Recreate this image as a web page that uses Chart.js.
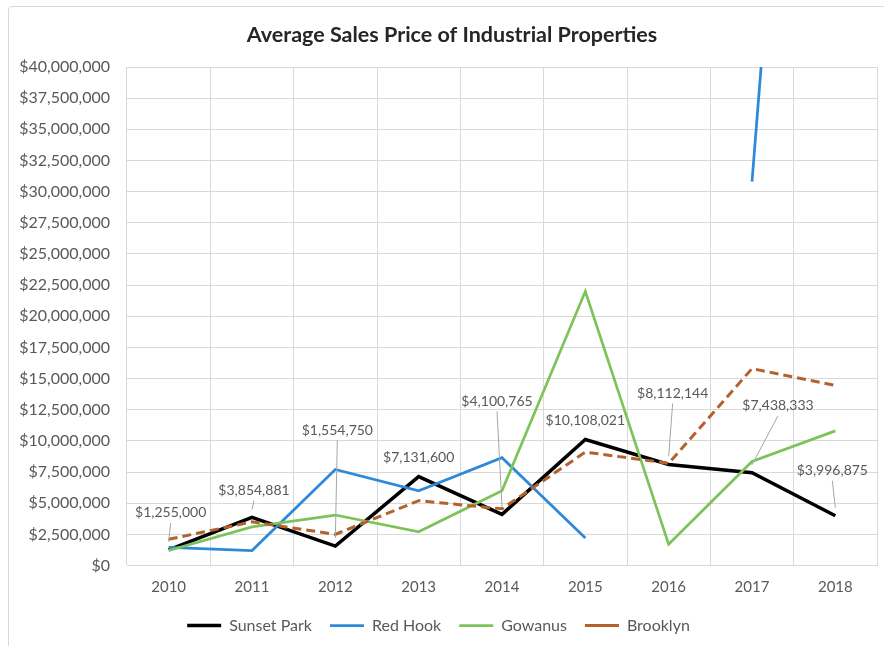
<!DOCTYPE html>
<html>
<head>
<meta charset="utf-8">
<script src="https://cdn.jsdelivr.net/npm/chart.js@4.4.0/dist/chart.umd.min.js"></script>
<style>
  html, body { margin: 0; padding: 0; background: #fff; }
  #wrap { position: relative; width: 884px; height: 646px; overflow: hidden; }
  #frame { position: absolute; left: 8px; top: 6px; width: 900px; height: 700px; border: 1px solid #d9d9d9; border-radius: 4px; }
  canvas { position: absolute; left: 0; top: 0; }
</style>
</head>
<body>
<div id="wrap">
  <div id="frame"></div>
  <canvas id="line-chart" width="884" height="646"></canvas>
</div>
<script>
const years = ["2010", "2011", "2012", "2013", "2014", "2015", "2016", "2017", "2018"];
const sunsetPark = [1255000, 3854881, 1554750, 7131600, 4100765, 10108021, 8112144, 7438333, 3996875];
const redHook = [1450000, 1200000, 7700000, 6000000, 8650000, 2200000, null, 30800000, 115000000];
const gowanus = [1200000, 3100000, 4050000, 2700000, 6000000, 22000000, 1700000, 8350000, 10800000];
const brooklyn = [2100000, 3500000, 2500000, 5200000, 4550000, 9100000, 8200000, 15800000, 14450000];
const yMin = 0;
const yMax = 40000000;
const yStep = 2500000;

const money = (v) => "$" + Number(v).toLocaleString("en-US");

// where the Sunset Park labels sit, relative to their point (text centre)
const labelOffsets = [[2, -37], [2, -27], [2, -116], [0, -19], [-5, -113], [0, -19], [4, -71], [26, -67], [-3, -45]];

const titlePlugin = {
  id: "titleText",
  afterDraw(chart) {
    const ctx = chart.ctx;
    ctx.save();
    ctx.font = "bold 21.5px Lato";
    ctx.fillStyle = "#262626";
    ctx.textAlign = "center";
    ctx.textBaseline = "middle";
    ctx.fillText("Average Sales Price of Industrial Properties", 452, 35);
    ctx.restore();
  },
};

const labelPlugin = {
  id: "pointLabels",
  afterDatasetsDraw(chart) {
    const ctx = chart.ctx;
    const meta = chart.getDatasetMeta(0);
    ctx.save();
    ctx.font = "14px Lato";
    ctx.textAlign = "center";
    ctx.textBaseline = "middle";
    meta.data.forEach((pt, i) => {
      const tx = pt.x + labelOffsets[i][0];
      const ty = pt.y + labelOffsets[i][1];
      const gap = pt.y - 8 - (ty + 10);
      if (gap > 4) {
        ctx.strokeStyle = "#a6a6a6";
        ctx.lineWidth = 1;
        ctx.beginPath();
        ctx.moveTo(tx, ty + 10);
        ctx.lineTo(pt.x, pt.y - 8);
        ctx.stroke();
      }
      ctx.fillStyle = "#595959";
      ctx.fillText(money(sunsetPark[i]), tx, ty);
    });
    ctx.restore();
  },
};

Chart.defaults.font.family = "Lato";
Chart.defaults.color = "#595959";

new Chart("line-chart", {
  type: "line",
  data: {
    labels: years,
    datasets: [
      { label: "Sunset Park", data: sunsetPark, borderColor: "#000000", backgroundColor: "#000000", borderWidth: 3.5, order: 4 },
      { label: "Red Hook", data: redHook, borderColor: "#2e8ad8", backgroundColor: "#2e8ad8", borderWidth: 2.75, order: 3 },
      { label: "Gowanus", data: gowanus, borderColor: "#7cc35a", backgroundColor: "#7cc35a", borderWidth: 2.75, order: 2 },
      { label: "Brooklyn", data: brooklyn, borderColor: "#b5612c", backgroundColor: "#b5612c", borderWidth: 3, borderDash: [9, 5], order: 1 },
    ],
  },
  options: {
    responsive: false,
    animation: false,
    spanGaps: false,
    elements: {
      point: { radius: 0, hoverRadius: 0 },
      line: { tension: 0, borderCapStyle: "butt" },
    },
    layout: { padding: { top: 67, right: 7, left: 0, bottom: 2.5 } },
    scales: {
      x: {
        offset: true,
        grid: { offset: true, color: "#d9d9d9", drawTicks: false },
        border: { color: "#d9d9d9" },
        ticks: { padding: 13, font: { size: 15 }, color: "#595959" },
        afterFit(scale) { scale.height = 34; },
      },
      y: {
        min: yMin,
        max: yMax,
        grid: { color: "#d9d9d9", drawTicks: false },
        border: { display: false },
        ticks: { stepSize: yStep, padding: 17, font: { size: 16 }, color: "#595959", callback: (v) => money(v) },
        afterFit(scale) { scale.width = 127; },
      },
    },
    plugins: {
      legend: {
        position: "bottom",
        labels: {
          usePointStyle: true,
          pointStyle: "line",
          pointStyleWidth: 34,
          padding: 18,
          font: { size: 16 },
          color: "#595959",
          sort: (a, b) => a.datasetIndex - b.datasetIndex,
        },
      },
      tooltip: { enabled: false },
    },
  },
  plugins: [titlePlugin, labelPlugin],
});
</script>
</body>
</html>
